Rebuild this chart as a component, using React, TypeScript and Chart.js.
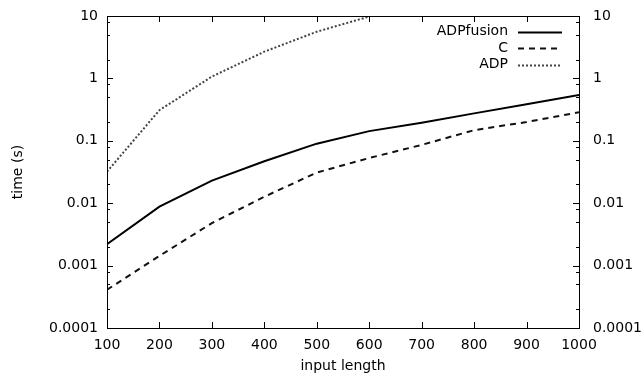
import React, { useEffect, useRef } from "react";
import { Chart, registerables } from "chart.js";

Chart.register(...registerables);

const inputLengths = [100, 200, 300, 400, 500, 600, 700, 800, 900, 1000];
const adpfusionTimes = [0.0022, 0.0088, 0.023, 0.047, 0.09, 0.143, 0.195, 0.275, 0.385, 0.54];
const cTimes = [0.00041, 0.00143, 0.0048, 0.0127, 0.031, 0.053, 0.086, 0.148, 0.2, 0.286];
const adpTimes = [0.032, 0.31, 1.07, 2.68, 5.6, 9.8];
const yMajorTicks = [0.0001, 0.001, 0.01, 0.1, 1, 10];
const yMinorMultipliers = [2, 5, 8];
const xTicks = [100, 200, 300, 400, 500, 600, 700, 800, 900, 1000];

const FONT = "'DejaVu Sans', sans-serif";
const FS = 14;

function isMajor(v: number) {
  const l = Math.log10(v);
  return Math.abs(l - Math.round(l)) < 1e-9;
}

function fmt(v: number) {
  if (v >= 1) return String(Math.round(v));
  return v.toFixed(Math.round(-Math.log10(v)));
}

function buildYTicks() {
  const out: { value: number }[] = [];
  for (let i = 0; i < yMajorTicks.length; i++) {
    const m = yMajorTicks[i];
    out.push({ value: m });
    if (i < yMajorTicks.length - 1) {
      for (const k of yMinorMultipliers) out.push({ value: m * k });
    }
  }
  return out;
}

const framePlugin = {
  id: "framePlugin",
  afterDraw(chart: any) {
    const ctx = chart.ctx;
    const { left, right, top, bottom } = chart.chartArea;
    const xs = chart.scales.x;
    const ys = chart.scales.y;
    ctx.save();
    ctx.strokeStyle = "#000";
    ctx.lineWidth = 1;
    ctx.strokeRect(Math.round(left) + 0.5, Math.round(top) + 0.5, Math.round(right - left), Math.round(bottom - top));
    ctx.beginPath();
    for (const t of ys.ticks) {
      const y = Math.round(ys.getPixelForValue(t.value)) + 0.5;
      const len = isMajor(t.value) ? 6 : 3;
      ctx.moveTo(left, y);
      ctx.lineTo(left + len, y);
      ctx.moveTo(right, y);
      ctx.lineTo(right - len, y);
    }
    for (const t of xs.ticks) {
      const x = Math.round(xs.getPixelForValue(t.value)) + 0.5;
      ctx.moveTo(x, bottom);
      ctx.lineTo(x, bottom - 6);
      ctx.moveTo(x, top);
      ctx.lineTo(x, top + 6);
    }
    ctx.stroke();

    ctx.font = FS + "px " + FONT;
    ctx.textAlign = "right";
    ctx.textBaseline = "middle";
    const rowY = [31.5, 48, 64.5];
    chart.data.datasets.forEach((ds: any, i: number) => {
      const y = rowY[i];
      ctx.fillStyle = "#000";
      ctx.fillText(ds.label, 508, y);
      ctx.beginPath();
      ctx.strokeStyle = ds.borderColor;
      ctx.lineWidth = ds.borderWidth;
      ctx.setLineDash(ds.borderDash || []);
      ctx.moveTo(518, Math.round(y) + 0.5);
      ctx.lineTo(562, Math.round(y) + 0.5);
      ctx.stroke();
      ctx.setLineDash([]);
    });
    ctx.restore();
  },
};

export default function App() {
  const ref = useRef<HTMLCanvasElement>(null);
  useEffect(() => {
    document.body.style.margin = "0";
    const toPts = (ys: number[]) => ys.map((y, i) => ({ x: inputLengths[i], y }));
    const yCommon = (position: string, width: number, pad: number, showTitle: boolean) => ({
      type: "logarithmic",
      position,
      min: 0.0001,
      max: 10,
      afterBuildTicks: (scale: any) => {
        scale.ticks = buildYTicks();
      },
      afterFit: (scale: any) => {
        scale.width = width;
        scale.paddingTop = 0;
        scale.paddingBottom = 0;
      },
      grid: { display: false, drawTicks: false },
      border: { display: false },
      ticks: {
        autoSkip: false,
        padding: pad,
        color: "#000",
        font: { family: FONT, size: FS },
        callback: (v: number) => (isMajor(v) ? fmt(v) : ""),
      },
      title: {
        display: showTitle,
        text: "time (s)",
        color: "#000",
        font: { family: FONT, size: FS },
        padding: { top: 10, bottom: 0 },
      },
    });
    const chart = new Chart(ref.current as HTMLCanvasElement, {
      type: "line",
      data: {
        datasets: [
          {
            label: "ADPfusion",
            data: toPts(adpfusionTimes),
            borderColor: "#000",
            borderWidth: 2,
            pointRadius: 0,
            fill: false,
          },
          {
            label: "C",
            data: toPts(cTimes),
            borderColor: "#111",
            borderWidth: 2,
            borderDash: [6, 5],
            pointRadius: 0,
            fill: false,
          },
          {
            label: "ADP",
            data: toPts(adpTimes),
            borderColor: "#444",
            borderWidth: 2,
            borderDash: [2, 2],
            pointRadius: 0,
            fill: false,
          },
        ],
      } as any,
      options: {
        animation: false,
        responsive: true,
        maintainAspectRatio: false,
        layout: { padding: { top: 16, left: 0, right: 0, bottom: 0 } },
        plugins: { legend: { display: false }, tooltip: { enabled: false } },
        scales: {
          x: {
            type: "linear",
            min: 100,
            max: 1000,
            afterBuildTicks: (scale: any) => {
              scale.ticks = xTicks.map((v) => ({ value: v }));
            },
            afterFit: (scale: any) => {
              scale.height = 48;
            },
            grid: { display: false, drawTicks: false },
            border: { display: false },
            ticks: {
              autoSkip: false,
              maxRotation: 0,
              padding: 9,
              color: "#000",
              font: { family: FONT, size: FS },
              callback: (v: number) => String(v),
            },
            title: {
              display: true,
              text: "input length",
              color: "#000",
              font: { family: FONT, size: FS },
              padding: { top: 0, bottom: 1 },
            },
          },
          y: yCommon("left", 107, 9, true),
          y2: yCommon("right", 64, 14, false),
        } as any,
      },
      plugins: [framePlugin],
    });
    return () => chart.destroy();
  }, []);
  return (
    <div style={{ position: "relative", width: 643, height: 376 }}>
      <canvas ref={ref} />
    </div>
  );
}
